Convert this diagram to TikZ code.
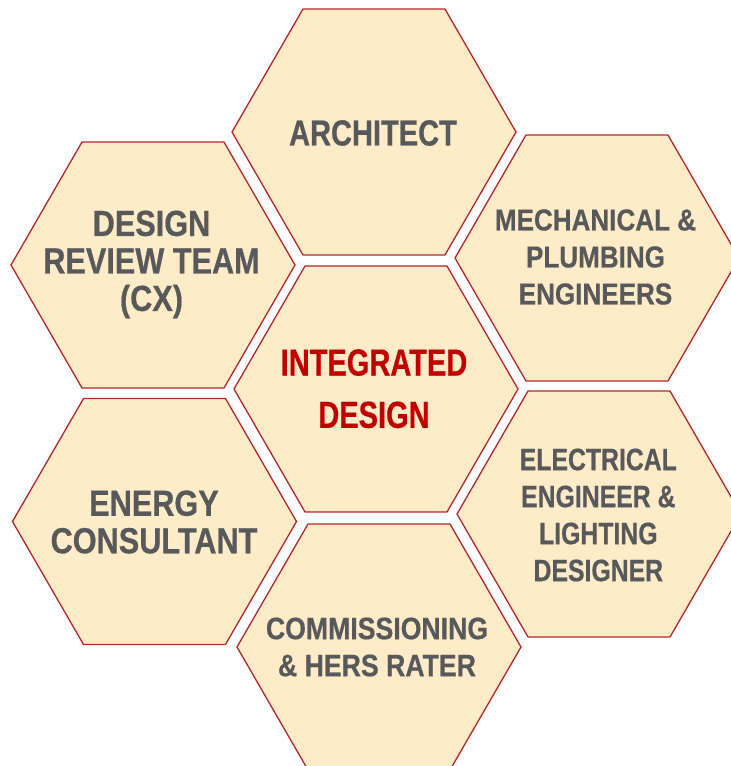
\documentclass[tikz,border=0pt]{standalone}
\usepackage{fontspec}
\newfontfamily\hxA{Liberation Sans}[UprightFont=* Bold, FakeStretch=0.80, FakeBold=0.5]
\newfontfamily\hxB{Liberation Sans}[UprightFont=* Bold, FakeStretch=0.845, FakeBold=0.5]
\newfontfamily\hxC{Liberation Sans}[UprightFont=* Bold, FakeStretch=0.86, FakeBold=0.5]
\newfontfamily\hxD{Liberation Sans}[UprightFont=* Bold, FakeStretch=0.77, FakeBold=0.5]
\usetikzlibrary{shapes.geometric}
\definecolor{hexfill}{HTML}{FEEBC7}
\definecolor{hexline}{HTML}{B3262B}
\definecolor{txtgray}{HTML}{58595B}
\definecolor{txtred}{HTML}{C00000}
\begin{document}
\begin{tikzpicture}[x=1pt,y=-1pt,
  hexa/.style={regular polygon, regular polygon sides=6, minimum size=284pt,
    inner sep=0pt, outer sep=0pt, fill=hexfill, draw=hexline, line width=1.3pt},
  lbl/.style={align=center, text=txtgray, inner sep=0pt}]
\useasboundingbox (0,0) rectangle (731,766);
\begin{scope}
\clip (0,0) rectangle (731,766);
\node[hexa] (arch) at (374,132) {};
\node[hexa] (review) at (153,265) {};
\node[hexa] (mech) at (597,258) {};
\node[hexa] (integ) at (376,389) {};
\node[hexa] (energy) at (154.5,521.5) {};
\node[hexa] (elec) at (599,514) {};
\node[hexa] (comm) at (379,647) {};
\end{scope}
\node[lbl, font=\hxA\fontsize{36.3}{37.5}\selectfont] (archt) at (373,133) {ARCHITECT};
\node[lbl, font=\hxB\fontsize{36.3}{37.5}\selectfont] (reviewt) at (151.5,264.5) {DESIGN\\REVIEW TEAM\\(CX)};
\node[lbl, font=\hxC\fontsize{30.3}{37}\selectfont] (mecht) at (595.5,257) {MECHANICAL \&\\PLUMBING\\ENGINEERS};
\node[lbl, text=txtred, font=\hxD\fontsize{37.7}{52.3}\selectfont] (integt) at (374,388.7) {INTEGRATED\\DESIGN};
\node[lbl, font=\hxB\fontsize{36.3}{37.5}\selectfont] (energyt) at (154,522) {ENERGY\\CONSULTANT};
\node[lbl, font=\hxA\fontsize{31}{37}\selectfont] (elect) at (598.3,515) {ELECTRICAL\\ENGINEER \&\\LIGHTING\\DESIGNER};
\node[lbl, font=\hxC\fontsize{31}{37}\selectfont] (commt) at (377,647) {COMMISSIONING\\\& HERS RATER};
\end{tikzpicture}
\end{document}
